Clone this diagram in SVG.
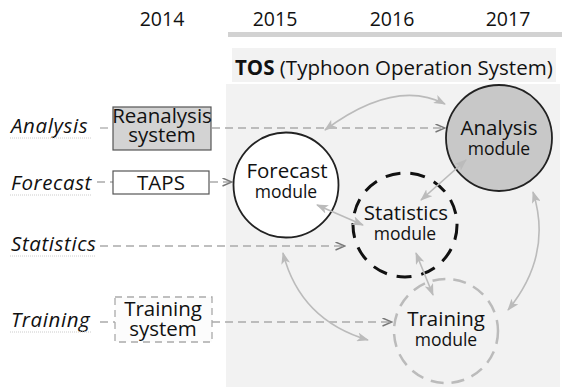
<svg xmlns="http://www.w3.org/2000/svg" width="567" height="387" viewBox="0 0 567 387">
<style>
text{font-family:"Open Sans","Liberation Sans",sans-serif;fill:#111}
.yr{font-size:19.5px;text-anchor:middle}
.lbl{font-size:20.5px;font-style:italic;letter-spacing:0.6px}
.big{font-size:20.5px;text-anchor:middle}
.sm{font-size:17.5px}
.dash{fill:none;stroke:#aaa;stroke-width:1.3;stroke-dasharray:8 5}
.ul{stroke:#ccc;stroke-width:1;stroke-dasharray:1 1}
.cur{fill:none;stroke:#bbb;stroke-width:1.6;marker-start:url(#ah);marker-end:url(#ah)}
</style>
<defs>
<marker id="ah" viewBox="0 0 12 9" refX="11" refY="4.5" markerWidth="12" markerHeight="9" markerUnits="userSpaceOnUse" orient="auto-start-reverse">
<path d="M0,0 L12,4.5 L0,9 L3,4.5 z" fill="#bbb"/>
</marker>
<marker id="ch" viewBox="0 0 11 9" refX="10" refY="4.5" markerWidth="11" markerHeight="9" markerUnits="userSpaceOnUse" orient="auto">
<path d="M0.5,0.5 L10,4.5 L0.5,8.5" fill="none" stroke="#777" stroke-width="1.4"/>
</marker>
</defs>
<rect width="567" height="387" fill="#fff"/>
<g id="years">
<text class="yr" x="162" y="26">2014</text>
<text class="yr" x="275" y="26">2015</text>
<text class="yr" x="392" y="26">2016</text>
<text class="yr" x="508" y="26">2017</text>
<rect x="228" y="32" width="334" height="5" fill="#d2d2d2"/>
</g>
<g id="tos">
<rect x="232" y="48" width="324" height="34" fill="#f2f2f2"/>
<rect x="226" y="84" width="334" height="303" fill="#f2f2f2"/>
<text x="235" y="75" style="font-size:20.5px"><tspan font-weight="bold">TOS</tspan> (Typhoon Operation System)</text>
</g>
<g id="row-labels">
<text class="lbl" x="11" y="133">Analysis</text>
<line class="ul" x1="10" y1="138" x2="92" y2="138"/>
<text class="lbl" x="11" y="190">Forecast</text>
<line class="ul" x1="10" y1="195" x2="92" y2="195"/>
<text class="lbl" x="11" y="251">Statistics</text>
<line class="ul" x1="10" y1="256" x2="96" y2="256"/>
<text class="lbl" x="11" y="327">Training</text>
<line class="ul" x1="10" y1="332" x2="92" y2="332"/>
</g>
<g id="connectors">
<path class="dash" d="M100,128 H112"/>
<path class="dash" d="M212,128 H445" marker-end="url(#ch)"/>
<path class="dash" d="M97,182 H113"/>
<path class="dash" d="M210,182 H232" marker-end="url(#ch)"/>
<path class="dash" d="M100,246 H345" marker-end="url(#ch)"/>
<path class="dash" d="M100,322 H115"/>
<path class="dash" d="M212,322 H392" marker-end="url(#ch)"/>
<path class="cur" d="M325,130 Q395,78 445,104"/>
<path class="cur" d="M283,253 Q300,320 368,340"/>
<path class="cur" d="M533,192 Q553,255 508,310"/>
</g>
<g id="reanalysis-system">
<rect x="113" y="107" width="98" height="43" fill="#d3d3d3" stroke="#555" stroke-width="1.2"/>
<text class="big" x="162" y="123">Reanalysis<tspan x="162" dy="19">system</tspan></text>
</g>
<g id="taps">
<rect x="113" y="171" width="96" height="23" fill="#fff" stroke="#555" stroke-width="1.2"/>
<text class="big" x="161" y="190">TAPS</text>
</g>
<g id="training-system">
<rect x="115" y="297" width="97" height="45" fill="#fcfcfc" stroke="#aaa" stroke-width="1.3" stroke-dasharray="7 5"/>
<text class="big" x="163" y="316">Training<tspan x="163" dy="20">system</tspan></text>
</g>
<g id="forecast-module">
<circle cx="286" cy="185" r="52.5" fill="#fff" stroke="#222" stroke-width="1.8"/>
<text class="big" x="287" y="178">Forecast<tspan class="sm" x="286" dy="20">module</tspan></text>
</g>
<g id="analysis-module">
<circle cx="499" cy="138" r="53" fill="#c8c8c8" stroke="#222" stroke-width="1.8"/>
<text class="big" x="499" y="135">Analysis<tspan class="sm" x="499" dy="20">module</tspan></text>
</g>
<g id="statistics-module">
<circle cx="405" cy="225" r="52" fill="none" stroke="#111" stroke-width="3" stroke-dasharray="15 10"/>
<text class="big" x="406" y="220">Statistics<tspan class="sm" x="405" dy="20">module</tspan></text>
</g>
<g id="training-module">
<circle cx="446" cy="331" r="52" fill="none" stroke="#bbb" stroke-width="2.5" stroke-dasharray="13 8"/>
<text class="big" x="446" y="326">Training<tspan class="sm" x="446" dy="20">module</tspan></text>
</g>
<g id="links">
<path class="cur" d="M466,160 L421,200"/>
<path class="cur" d="M317,205 L363,225"/>
<path class="cur" d="M416,253 L433,295"/>
</g>
</svg>
